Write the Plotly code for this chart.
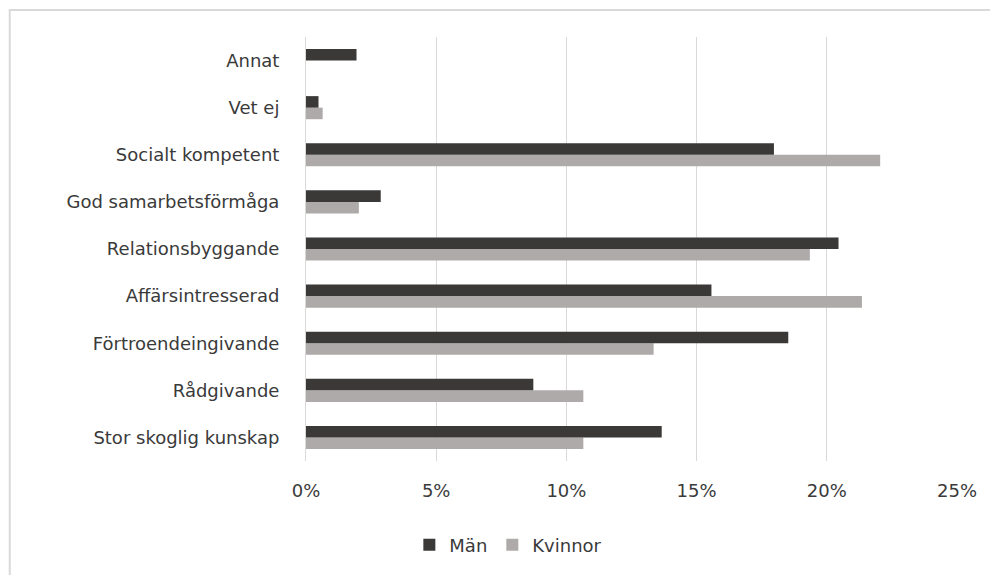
import plotly.graph_objects as go

categories = ["Stor skoglig kunskap", "Rådgivande", "Förtroendeingivande", "Affärsintresserad",
              "Relationsbyggande", "God samarbetsförmåga", "Socialt kompetent", "Vet ej", "Annat"]
man = [0.1366, 0.0873, 0.1852, 0.1557, 0.2045, 0.0287, 0.1797, 0.0048, 0.0194]
kvinnor = [0.1065, 0.1065, 0.1335, 0.2135, 0.1935, 0.0203, 0.2205, 0.0064, 0.0]
tick_vals = [0, 0.05, 0.10, 0.15, 0.20, 0.25]
tick_text = ["0%", "5%", "10%", "15%", "20%", "25%"]

font_family = "DejaVu Sans, sans-serif"
text_color = "#3a3a3a"

L, R, T, B = 297.5, 49, 29, 122
pw = 998 - L - R
ph = 575 - T - B

fig = go.Figure()
fig.add_trace(go.Bar(y=categories, x=kvinnor, name="Kvinnor", orientation="h",
                     marker=dict(color="#aeaaaa", line=dict(width=0))))
fig.add_trace(go.Bar(y=categories, x=man, name="Män", orientation="h",
                     marker=dict(color="#3b3838", line=dict(width=0))))

fig.update_layout(
    width=998, height=575,
    margin=dict(l=L, r=R, t=T, b=B),
    paper_bgcolor="white", plot_bgcolor="white",
    barmode="group", bargap=0.51, bargroupgap=0,
    font=dict(family=font_family, size=18, color=text_color),
    showlegend=True,
    legend=dict(orientation="h", x=(500 - L) / pw, xanchor="center",
                y=(ph - (537 - T)) / ph, yanchor="middle",
                traceorder="reversed", font=dict(size=18, color=text_color),
                itemwidth=30),
    xaxis=dict(range=[0, 0.25], tickvals=tick_vals, ticktext=tick_text,
               showgrid=True, gridcolor="#d9d9d9", gridwidth=1, zeroline=False,
               showline=False, ticks="", tickfont=dict(size=18, color=text_color),
               ticklabelstandoff=17),
    yaxis=dict(showline=True, linecolor="#d9d9d9", linewidth=1, ticks="",
               showgrid=False, tickfont=dict(size=18, color=text_color),
               ticklabelstandoff=22),
    shapes=[dict(type="rect", xref="paper", yref="paper",
                 x0=(1 - L) / pw, x1=1.2, y0=-0.35, y1=(ph + T - 2) / ph,
                 line=dict(color="#d9d9d9", width=2), fillcolor="rgba(0,0,0,0)")],
)

fig.write_html("out.html")
